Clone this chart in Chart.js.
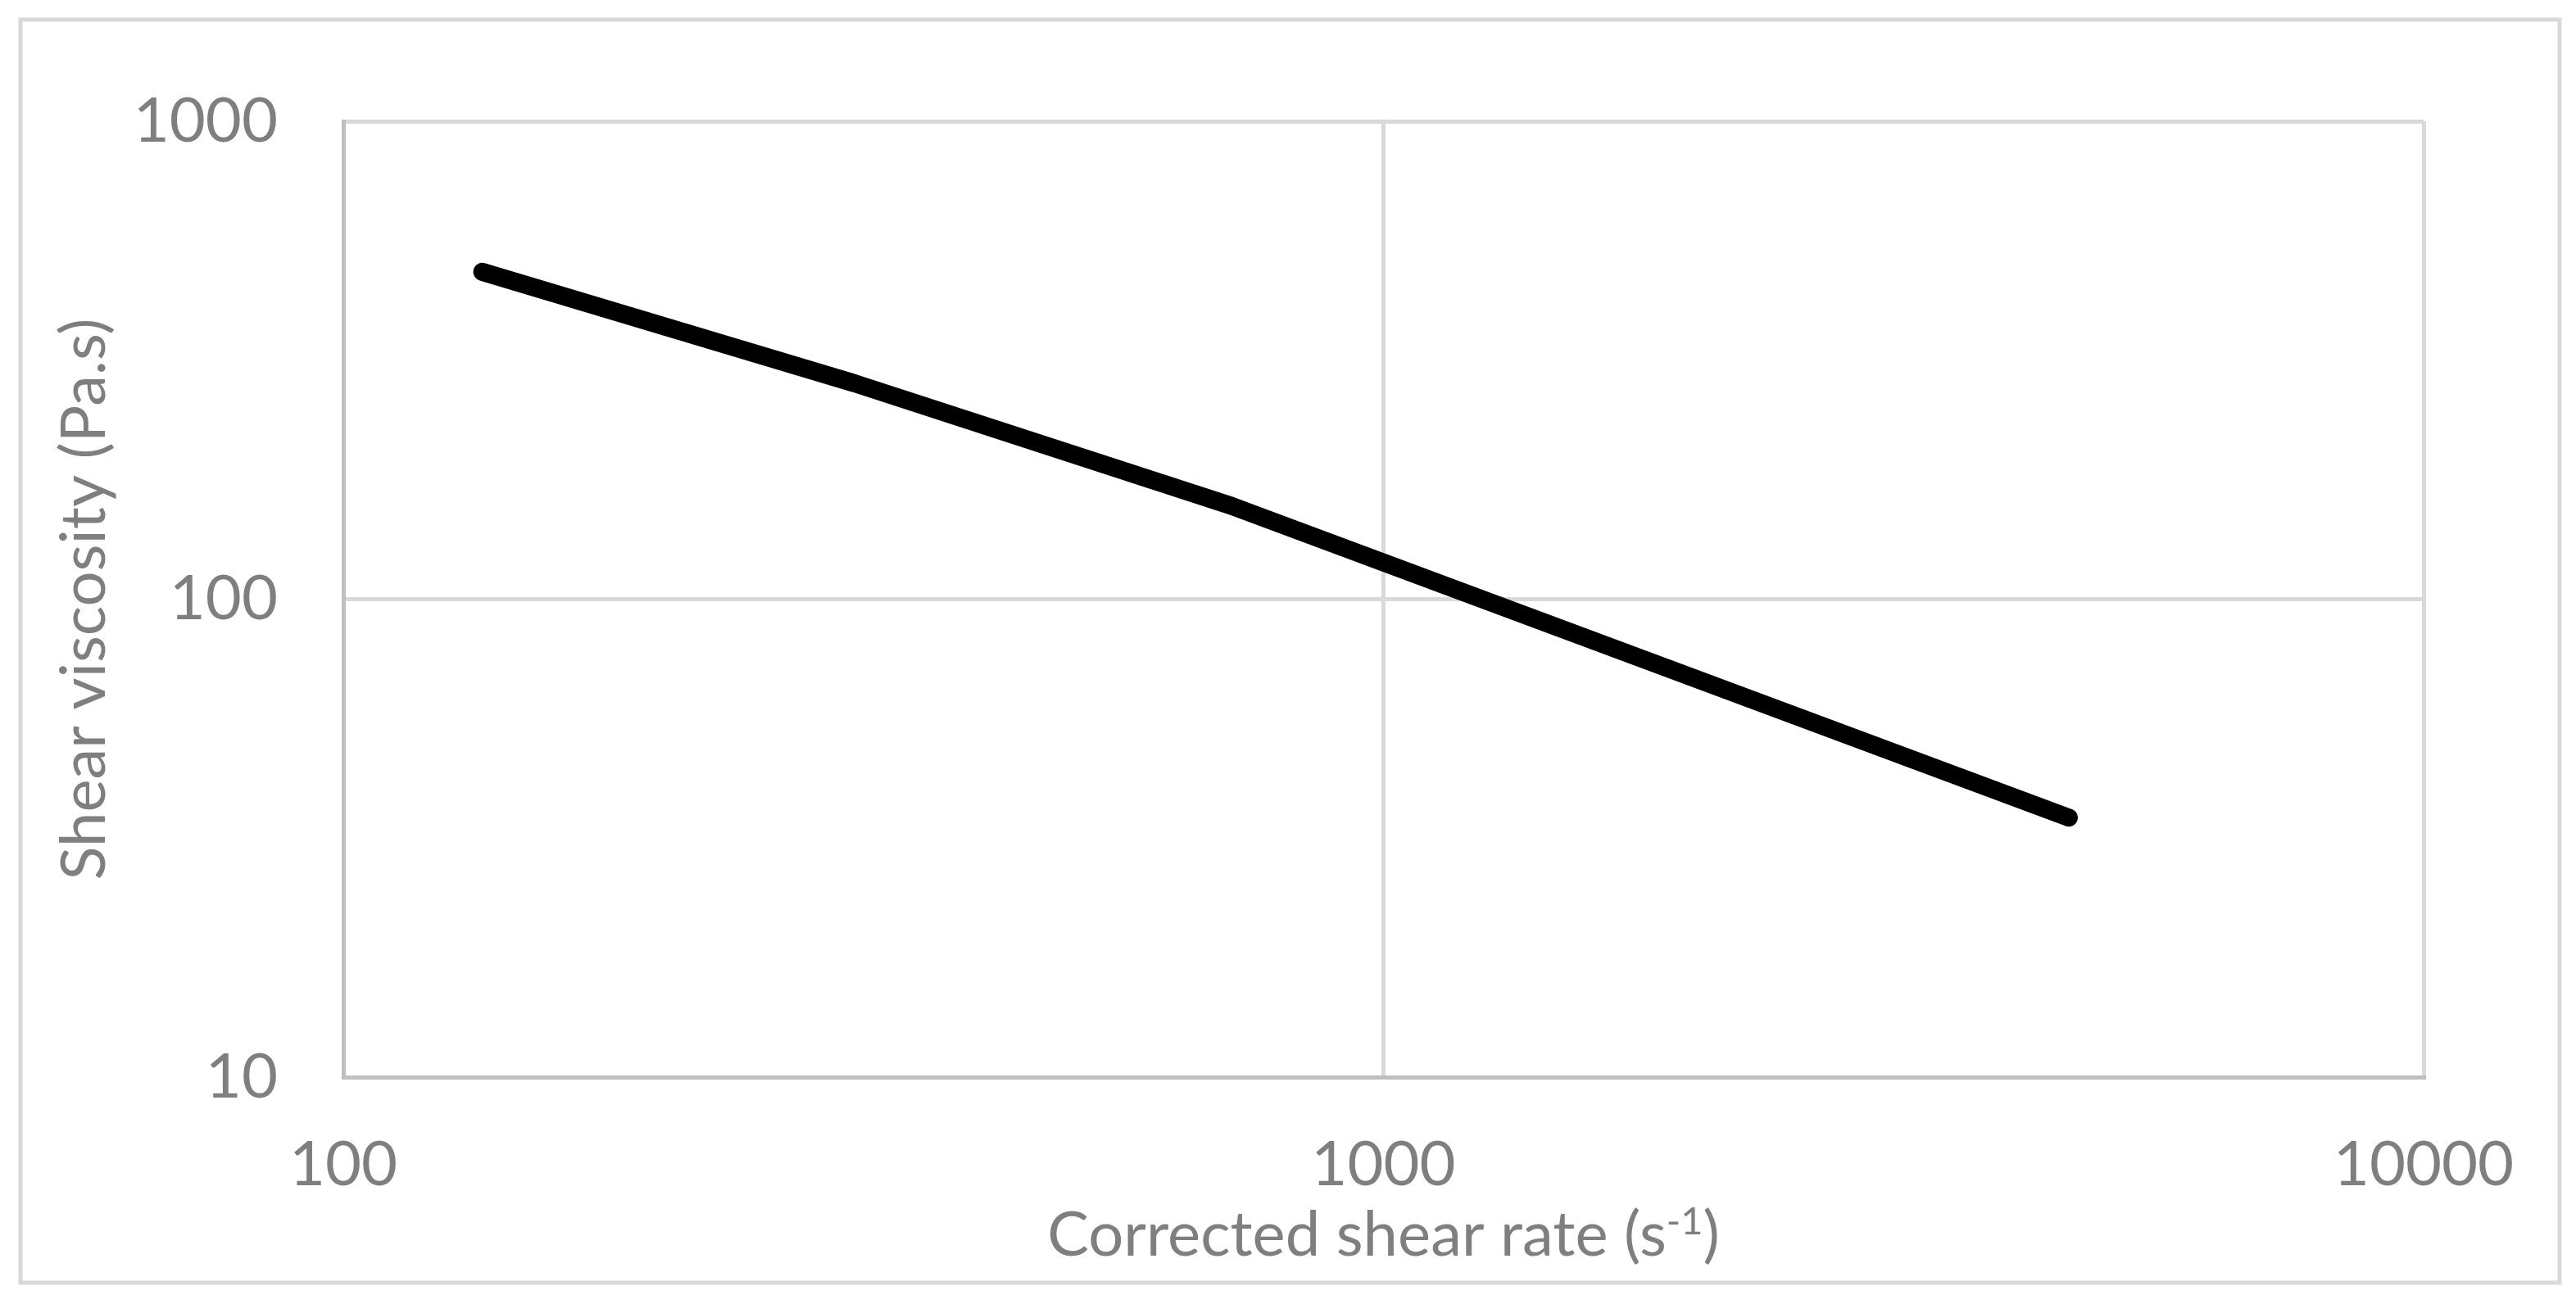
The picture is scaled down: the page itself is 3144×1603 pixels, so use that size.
<!DOCTYPE html>
<html>
<head>
<meta charset="utf-8">
<script src="https://cdn.jsdelivr.net/npm/chart.js@4.4.0/dist/chart.umd.min.js"></script>
<style>
  html, body { margin: 0; padding: 0; background: #ffffff; }
  #wrap { width: 3144px; height: 1603px; }
</style>
</head>
<body>
<div id="wrap"><canvas id="viscChart" width="3144" height="1603"></canvas></div>
<script>
// values (log-log)
const shearRate = [136, 310, 713, 4560];
const viscosity = [484, 283, 157, 34.9];
const xTicks = [100, 1000, 10000];
const yTicks = [10, 100, 1000];
const xTitle = ["Corrected shear rate (s", "-1", ")"];
const yTitle = "Shear viscosity (Pa.s)";

const textColor = "#7f7f7f";
const gridColor = "#d9d9d9";
const axisColor = "#bfbfbf";
const fontFamily = "Lato, 'Open Sans', sans-serif";
const fontSize = 76;

// outer frame + white background
const framePlugin = {
    id: "frame",
    beforeDraw(chart) {
        const ctx = chart.ctx;
        ctx.save();
        ctx.fillStyle = "#ffffff";
        ctx.fillRect(0, 0, chart.width, chart.height);
        ctx.strokeStyle = gridColor;
        ctx.lineWidth = 5;
        ctx.strokeRect(25, 24, 3099, 1542);
        ctx.restore();
    },
};

// x title with a real superscript
const xTitlePlugin = {
    id: "xTitle",
    afterDraw(chart) {
        const { ctx, chartArea } = chart;
        const supSize = Math.round(fontSize * 0.62);
        ctx.save();
        ctx.fillStyle = textColor;
        ctx.textBaseline = "alphabetic";
        ctx.textAlign = "left";
        ctx.font = fontSize + "px " + fontFamily;
        const w1 = ctx.measureText(xTitle[0]).width;
        const w3 = ctx.measureText(xTitle[2]).width;
        ctx.font = supSize + "px " + fontFamily;
        const w2 = ctx.measureText(xTitle[1]).width;
        const cx = (chartArea.left + chartArea.right) / 2;
        const baseY = 1533;
        let x = cx - (w1 + w2 + w3) / 2;
        ctx.font = fontSize + "px " + fontFamily;
        ctx.fillText(xTitle[0], x, baseY);
        x += w1;
        ctx.font = supSize + "px " + fontFamily;
        ctx.fillText(xTitle[1], x, baseY - 26);
        x += w2;
        ctx.font = fontSize + "px " + fontFamily;
        ctx.fillText(xTitle[2], x, baseY);
        ctx.restore();
    },
};

const points = shearRate.map((v, i) => ({ x: v, y: viscosity[i] }));

new Chart(document.getElementById("viscChart"), {
    type: "scatter",
    data: {
        datasets: [
            {
                data: points,
                showLine: true,
                borderColor: "#000000",
                backgroundColor: "#000000",
                borderWidth: 22,
                borderCapStyle: "round",
                borderJoinStyle: "round",
                pointRadius: 0,
                pointHoverRadius: 0,
                tension: 0,
            },
        ],
    },
    options: {
        responsive: false,
        animation: false,
        devicePixelRatio: 1,
        layout: { padding: { top: 148, right: 186, left: 0, bottom: 0 } },
        plugins: {
            legend: { display: false },
            tooltip: { enabled: false },
        },
        scales: {
            x: {
                type: "logarithmic",
                position: "bottom",
                min: 100,
                max: 10000,
                afterBuildTicks: (s) => {
                    s.ticks = xTicks.map((v) => ({ value: v }));
                },
                afterFit: (s) => {
                    s.height = 1603 - 1315;
                },
                grid: { color: gridColor, lineWidth: 5, drawTicks: false },
                border: { color: axisColor, width: 5 },
                ticks: {
                    color: textColor,
                    padding: 62,
                    maxRotation: 0,
                    font: { family: fontFamily, size: fontSize },
                    callback: (v) => String(v),
                },
            },
            y: {
                type: "logarithmic",
                min: 10,
                max: 1000,
                afterBuildTicks: (s) => {
                    s.ticks = yTicks.map((v) => ({ value: v }));
                },
                afterFit: (s) => {
                    s.width = 419;
                },
                grid: { color: gridColor, lineWidth: 5, drawTicks: false },
                border: { color: axisColor, width: 5 },
                ticks: {
                    color: textColor,
                    padding: 80,
                    font: { family: fontFamily, size: fontSize },
                    callback: (v) => String(v),
                },
                title: {
                    display: true,
                    text: yTitle,
                    color: textColor,
                    padding: { top: 58, bottom: 0 },
                    font: { family: fontFamily, size: fontSize },
                },
            },
        },
    },
    plugins: [framePlugin, xTitlePlugin],
});
</script>
</body>
</html>
